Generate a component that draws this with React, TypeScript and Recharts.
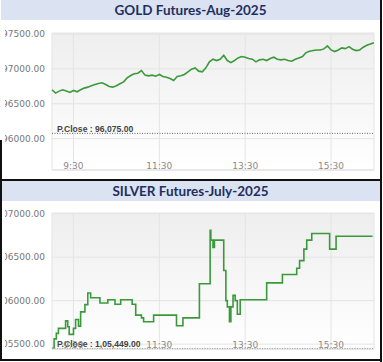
import React from 'react';
import { LineChart, Line, XAxis, YAxis, CartesianGrid, ReferenceLine } from 'recharts';

// ---- shared time axis (minutes since 9:00) ----
const timeTicks = [30, 150, 270, 390];
const timeTickLabels = ['9:30', '11:30', '13:30', '15:30'];

// ---- GOLD ----
const goldTitle = 'GOLD Futures-Aug-2025';
const goldMinutes = [
  0, 5, 10, 15, 20, 25, 30, 35, 40, 45, 50, 55, 60, 65, 70, 75, 80, 85, 90, 95,
  100, 105, 110, 115, 120, 125, 130, 135, 140, 145, 150, 155, 160, 165, 170, 175, 180, 185, 190, 195,
  200, 205, 210, 215, 220, 225, 230, 235, 240, 245, 250, 255, 260, 265, 270, 275, 280, 285, 290, 295,
  300, 305, 310, 315, 320, 325, 330, 335, 340, 345, 350, 355, 360, 365, 370, 375, 380, 385, 390, 395,
  400, 405, 410, 415, 420, 425, 430, 435, 440, 445, 450,
];
const goldPrices = [
  96700, 96652, 96681, 96700, 96681, 96662, 96690, 96671, 96700, 96724, 96738, 96757, 96776, 96790, 96800, 96776, 96748, 96738, 96757, 96786,
  96814, 96871, 96905, 96929, 96938, 96976, 96910, 96900, 96910, 96895, 96919, 96890, 96881, 96862, 96833, 96890, 96900, 96919, 96957, 96995,
  97014, 96967, 96957, 97014, 97100, 97138, 97119, 97138, 97195, 97119, 97090, 97119, 97157, 97176, 97167, 97148, 97138, 97100, 97129, 97138,
  97119, 97148, 97167, 97138, 97129, 97138, 97119, 97110, 97138, 97157, 97176, 97233, 97252, 97262, 97271, 97271, 97286, 97329, 97271, 97248,
  97271, 97300, 97290, 97319, 97281, 97262, 97271, 97310, 97338, 97357, 97376,
];
const goldYTicks = [96000, 96500, 97000, 97500];
const goldPrevClose = 96075;
const goldPrevCloseLabel = 'P.Close : 96,075.00';

// ---- SILVER ----
const silverTitle = 'SILVER Futures-July-2025';
const silverMinutes = [
  0, 3, 6, 9, 19, 22, 24, 30, 33, 37, 40, 46, 50, 54, 67, 78, 88, 96, 112, 117,
  125, 128, 142, 174, 183, 206, 221, 222, 225, 227, 240, 243, 245, 248, 250, 253, 256, 259, 263, 300,
  322, 342, 346, 352, 356, 363, 388, 397, 448,
];
const silverPrices = [
  105453, 105560, 105624, 105681, 105768, 105700, 105612, 105681, 105783, 105707, 105871, 105954, 106088, 106034, 105973, 106011, 105958, 106011, 105958, 105833,
  105802, 105757, 105833, 105711, 105802, 106194, 106810, 106696, 106612, 106696, 106346, 106000, 105928, 105757, 105928, 106061, 106000, 105844, 106011, 106205,
  106300, 106373, 106460, 106593, 106696, 106772, 106593, 106741, 106741,
];
const silverYTicks = [105500, 106000, 106500, 107000];
const silverPrevClose = 105449;
const silverPrevCloseLabel = 'P.Close : 1,05,449.00';

const LINE_COLOR = '#3a9a3a';
const TITLE_BG = '#dbe3f3';
const TITLE_COLOR = '#1f2f5e';

const XTick = (props: any) => {
  const { x, y, payload, off } = props;
  const idx = timeTicks.indexOf(payload.value);
  return (
    <text x={x} y={y - off} textAnchor="middle" fontSize={9} fill="#8a8a8a" fontFamily="DejaVu Sans">
      {idx >= 0 ? timeTickLabels[idx] : ''}
    </text>
  );
};

const PCloseLabel = (props: any) => {
  const { viewBox, text, dyv } = props;
  if (!viewBox) return null;
  return (
    <text x={viewBox.x + 5} y={viewBox.y + dyv} fontSize={8.6} fontWeight={700} fill="#444" fontFamily="Liberation Sans">
      {text}
    </text>
  );
};

type PanelProps = {
  title: string;
  top: number;
  minutes: number[];
  prices: number[];
  yTicks: number[];
  domain: [number, number];
  prevClose: number;
  prevCloseLabel: string;
  chartHeight: number;
  marginTop: number;
  lineType: 'linear' | 'stepAfter';
  xOff: number;
  labelDy: number;
  gid: string;
};

const CLIP_LEFT = 5;

const Panel = (p: PanelProps) => {
  const data = p.minutes.map((t, i) => ({ t, v: p.prices[i] }));
  return (
    <div style={{ position: 'absolute', left: 0, top: p.top, width: 383, height: 180 }}>
      <div
        style={{
          position: 'absolute', left: 1, top: 0, width: 379, height: 20, background: TITLE_BG,
          color: TITLE_COLOR, fontFamily: 'Lato', fontWeight: 700, fontSize: 13.5,
          textAlign: 'center', lineHeight: '21px',
        }}
      >
        {p.title}
      </div>
      <div style={{ position: 'absolute', left: CLIP_LEFT, top: 20, width: 380 - CLIP_LEFT, height: p.chartHeight, overflow: 'hidden' }}>
        <LineChart
          width={380 - CLIP_LEFT}
          height={p.chartHeight}
          data={data}
          margin={{ top: p.marginTop, right: 6, bottom: 0, left: 0 }}
        >
          <defs>
            <linearGradient id={p.gid} x1="0" y1="0" x2="0" y2="1">
              <stop offset="0%" stopColor="#eeeeee" />
              <stop offset="100%" stopColor="#ffffff" />
            </linearGradient>
          </defs>
          <CartesianGrid stroke="#e4e4e4" fill={`url(#${p.gid})`} fillOpacity={1} />
          <XAxis
            dataKey="t"
            type="number"
            domain={[0, 450]}
            ticks={timeTicks}
            tickLine={false}
            tickSize={0}
            tickMargin={0}
            height={8}
            axisLine={{ stroke: '#e0e0e0' }}
            tick={<XTick off={p.xOff} />}
            interval={0}
          />
          <YAxis
            type="number"
            domain={p.domain}
            ticks={p.yTicks}
            allowDataOverflow
            width={52 - CLIP_LEFT}
            tickLine={false}
            axisLine={false}
            tickMargin={1}
            tick={{ fontSize: 9, fill: '#777', fontFamily: 'DejaVu Sans' }}
            tickFormatter={(v: number) => v.toFixed(2)}
            interval={0}
          />
          <Line
            type={p.lineType}
            dataKey="v"
            stroke={LINE_COLOR}
            strokeWidth={1.6}
            dot={false}
            isAnimationActive={false}
          />
          <ReferenceLine
            y={p.prevClose}
            stroke="#666"
            strokeDasharray="1 1.5"
            label={(lp: any) => <PCloseLabel {...lp} text={p.prevCloseLabel} dyv={p.labelDy} />}
          />
        </LineChart>
      </div>
    </div>
  );
};

export default function App() {
  return (
    <div style={{ position: 'absolute', left: 0, top: 0, width: 383, height: 362, background: '#fff', overflow: 'hidden' }}>
      <Panel
        title={goldTitle}
        top={0}
        minutes={goldMinutes}
        prices={goldPrices}
        yTicks={goldYTicks}
        domain={[95550, 97514]}
        prevClose={goldPrevClose}
        prevCloseLabel={goldPrevCloseLabel}
        chartHeight={158}
        marginTop={13}
        lineType="linear"
        xOff={1}
        labelDy={-1}
        gid="bgGold"
      />
      <Panel
        title={silverTitle}
        top={181}
        minutes={silverMinutes}
        prices={silverPrices}
        yTicks={silverYTicks}
        domain={[105444, 107008]}
        prevClose={silverPrevClose}
        prevCloseLabel={silverPrevCloseLabel}
        chartHeight={156}
        marginTop={12}
        lineType="stepAfter"
        xOff={1.5}
        labelDy={-1.5}
        gid="bgSilver"
      />
      {/* borders */}
      <div style={{ position: 'absolute', left: 380, top: 0, width: 2, height: 362, background: '#111' }} />
      <div style={{ position: 'absolute', left: 0, top: 140, width: 1.5, height: 221, background: '#111' }} />
      <div style={{ position: 'absolute', left: 0, top: 179, width: 382, height: 2, background: '#111' }} />
      <div style={{ position: 'absolute', left: 0, top: 359, width: 382, height: 2, background: '#111' }} />
    </div>
  );
}
